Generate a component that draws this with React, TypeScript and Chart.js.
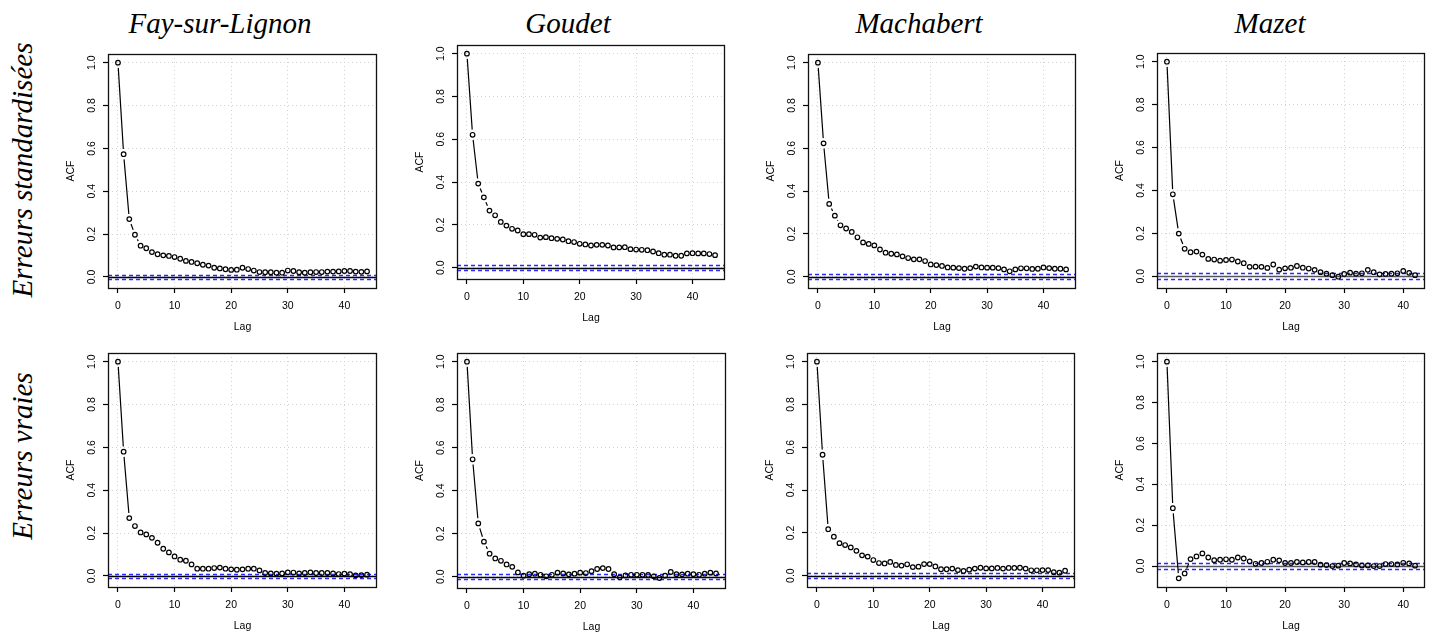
import React, { useEffect, useRef } from "react";
import { Chart, registerables } from "chart.js";

Chart.register(...registerables);

// ---------- data ----------
const SITES = ["Fay-sur-Lignon", "Goudet", "Machabert", "Mazet"];
const ROW_LABELS = ["Erreurs standardisées", "Erreurs vraies"];
const X_TICKS = [0, 10, 20, 30, 40];
const Y_TICKS = [0, 0.2, 0.4, 0.6, 0.8, 1.0];
const X_TITLE = "Lag";
const Y_TITLE = "ACF";

const fayStd = [
  1.0, 0.573, 0.27, 0.197, 0.146, 0.134, 0.116, 0.106, 0.101, 0.098,
  0.093, 0.085, 0.075, 0.07, 0.064, 0.057, 0.053, 0.043, 0.04, 0.036,
  0.033, 0.034, 0.043, 0.037, 0.03, 0.023, 0.022, 0.022, 0.02, 0.02,
  0.03, 0.028, 0.022, 0.02, 0.022, 0.023, 0.023, 0.025, 0.025, 0.026,
  0.028, 0.028, 0.025, 0.024, 0.026,
];
const goudetStd = [
  1.0, 0.621, 0.393, 0.329, 0.267, 0.245, 0.214, 0.197, 0.182, 0.174,
  0.157, 0.157, 0.154, 0.141, 0.143, 0.138, 0.135, 0.132, 0.124, 0.12,
  0.112, 0.109, 0.104, 0.107, 0.107, 0.104, 0.095, 0.095, 0.096, 0.087,
  0.085, 0.084, 0.082, 0.076, 0.068, 0.061, 0.061, 0.056, 0.056, 0.067,
  0.068, 0.067, 0.067, 0.064, 0.059,
];
const machabertStd = [
  1.0, 0.623, 0.34, 0.285, 0.24, 0.225, 0.209, 0.184, 0.16, 0.153,
  0.146, 0.127, 0.112, 0.107, 0.104, 0.095, 0.087, 0.081, 0.081, 0.073,
  0.057, 0.054, 0.05, 0.043, 0.042, 0.04, 0.037, 0.04, 0.047, 0.043,
  0.042, 0.042, 0.04, 0.034, 0.025, 0.034, 0.039, 0.039, 0.036, 0.037,
  0.043, 0.04, 0.037, 0.037, 0.034,
];
const mazetStd = [
  1.0, 0.382, 0.199, 0.128, 0.112, 0.115, 0.101, 0.081, 0.078, 0.073,
  0.076, 0.078, 0.069, 0.061, 0.044, 0.045, 0.044, 0.039, 0.055, 0.031,
  0.037, 0.04, 0.048, 0.04, 0.036, 0.03, 0.019, 0.012, 0.005, -0.002,
  0.011, 0.017, 0.012, 0.014, 0.03, 0.019, 0.009, 0.011, 0.012, 0.014,
  0.025, 0.016, 0.005,
];
const fayTrue = [
  1.0, 0.58, 0.27, 0.233, 0.203, 0.194, 0.178, 0.155, 0.127, 0.11,
  0.091, 0.076, 0.071, 0.054, 0.034, 0.034, 0.034, 0.037, 0.039, 0.034,
  0.031, 0.029, 0.031, 0.034, 0.034, 0.026, 0.014, 0.012, 0.011, 0.012,
  0.017, 0.016, 0.012, 0.014, 0.017, 0.014, 0.014, 0.014, 0.012, 0.009,
  0.011, 0.008, 0.003, 0.004, 0.006,
];
const goudetTrue = [
  1.0, 0.546, 0.248, 0.163, 0.107, 0.085, 0.074, 0.057, 0.046, 0.02,
  0.005, 0.012, 0.014, 0.009, 0.002, 0.009, 0.019, 0.015, 0.011, 0.014,
  0.019, 0.017, 0.026, 0.036, 0.04, 0.036, 0.012, -0.003, 0.006, 0.009,
  0.009, 0.009, 0.008, 0.002, -0.006, 0.005, 0.022, 0.012, 0.011, 0.014,
  0.012, 0.009, 0.014, 0.019, 0.015,
];
const machabertTrue = [
  1.0, 0.565, 0.217, 0.182, 0.152, 0.143, 0.132, 0.116, 0.095, 0.089,
  0.073, 0.059, 0.057, 0.064, 0.05, 0.047, 0.053, 0.04, 0.042, 0.054,
  0.054, 0.043, 0.03, 0.03, 0.033, 0.026, 0.022, 0.028, 0.033, 0.037,
  0.034, 0.034, 0.036, 0.033, 0.036, 0.036, 0.037, 0.033, 0.025, 0.025,
  0.026, 0.026, 0.016, 0.014, 0.023,
];
const mazetTrue = [
  1.0, 0.283, -0.06, -0.036, 0.034, 0.047, 0.062, 0.042, 0.029, 0.031,
  0.033, 0.031, 0.042, 0.037, 0.023, 0.011, 0.015, 0.021, 0.031, 0.028,
  0.015, 0.015, 0.02, 0.018, 0.02, 0.02, 0.007, 0.005, 0.0, 0.002,
  0.015, 0.013, 0.008, 0.003, 0.003, 0.0, 0.0, 0.01, 0.01, 0.008,
  0.016, 0.013, 0.002,
];

// confidence bounds (± value) per panel
const ciStd = [0.011, 0.012, 0.0125, 0.014];
const ciTrue = [0.011, 0.012, 0.0125, 0.016];

const SERIES = [
  [fayStd, goudetStd, machabertStd, mazetStd],
  [fayTrue, goudetTrue, machabertTrue, mazetTrue],
];
const CIS = [ciStd, ciTrue];

// ---------- layout (plot box of every panel, page pixels) ----------
const BOXES = [
  [
    { l: 108, t: 54, w: 269, h: 234 },
    { l: 457, t: 45, w: 268, h: 234 },
    { l: 808, t: 54, w: 268, h: 234 },
    { l: 1157, t: 53, w: 268, h: 235 },
  ],
  [
    { l: 108, t: 353, w: 269, h: 234 },
    { l: 457, t: 353, w: 269, h: 235 },
    { l: 807, t: 353, w: 268, h: 234 },
    { l: 1157, t: 353, w: 268, h: 234 },
  ],
];
const ZERO_COLORS = ["#000", "#000", "#000", "#555"];
const TITLE_X = [220, 568, 919, 1270];
const ROW_Y = [170, 456];

const PAD_L = 60;
const PAD_T = 10;
const PAD_R = 10;
const PAD_B = 50;
const SANS = '"Liberation Sans", Arial, sans-serif';
const SERIF = '"Liberation Serif", "Times New Roman", serif';

const rPlot = {
  id: "rPlot",
  beforeDatasetsDraw(chart: any, _args: any, opts: any) {
    const { ctx, chartArea: a, scales } = chart;
    const y = scales.y;
    const ci = opts.ci as number;
    ctx.save();
    // zero line
    ctx.lineWidth = 1.3;
    ctx.strokeStyle = opts.zeroColor || "#000";
    const y0 = Math.round(y.getPixelForValue(0)) + 0.5;
    ctx.beginPath();
    ctx.moveTo(a.left, y0);
    ctx.lineTo(a.right, y0);
    ctx.stroke();
    // confidence bounds
    ctx.strokeStyle = "#2a2aff";
    ctx.lineWidth = 1.5;
    ctx.setLineDash([4, 3]);
    for (const c of [ci, -ci]) {
      const yy = Math.round(y.getPixelForValue(c)) + 0.5;
      ctx.beginPath();
      ctx.moveTo(a.left, yy);
      ctx.lineTo(a.right, yy);
      ctx.stroke();
    }
    ctx.setLineDash([]);
    // type "b" line with gaps around points
    const pts = chart.getDatasetMeta(0).data;
    const gap = 5.2;
    ctx.strokeStyle = "#000";
    ctx.lineWidth = 1.2;
    ctx.beginPath();
    for (let i = 0; i < pts.length - 1; i++) {
      const p0 = pts[i];
      const p1 = pts[i + 1];
      const dx = p1.x - p0.x;
      const dy = p1.y - p0.y;
      const d = Math.hypot(dx, dy);
      if (d > 2 * gap) {
        const f = gap / d;
        ctx.moveTo(p0.x + dx * f, p0.y + dy * f);
        ctx.lineTo(p1.x - dx * f, p1.y - dy * f);
      }
    }
    ctx.stroke();
    // box
    ctx.strokeStyle = "#111";
    ctx.lineWidth = 1.3;
    ctx.strokeRect(a.left + 0.5, a.top + 0.5, a.right - a.left - 1, a.bottom - a.top);
    // y tick labels (parallel to axis)
    ctx.fillStyle = "#000";
    ctx.font = `10.5px ${SANS}`;
    ctx.textAlign = "center";
    ctx.textBaseline = "middle";
    for (const v of Y_TICKS) {
      const py = y.getPixelForValue(v);
      ctx.save();
      ctx.translate(a.left - 15.5, py);
      ctx.rotate(-Math.PI / 2);
      ctx.fillText(v.toFixed(1), 0, 0);
      ctx.restore();
    }
    // axis titles
    ctx.save();
    ctx.translate(a.left - 36.5, (a.top + a.bottom) / 2);
    ctx.rotate(-Math.PI / 2);
    ctx.fillText(Y_TITLE, 0, 0);
    ctx.restore();
    ctx.fillText(X_TITLE, (a.left + a.right) / 2, a.bottom + 39);
    ctx.restore();
  },
};

type Box = { l: number; t: number; w: number; h: number };

function Panel({ values, ci, box, zeroColor }: { values: number[]; ci: number; box: Box; zeroColor: string }) {
  const ref = useRef<HTMLCanvasElement>(null);
  useEffect(() => {
    const n = values.length - 1;
    const xmin = -0.04 * n;
    const xmax = n * 1.04;
    const lo = Math.min(-ci, ...values);
    const hi = Math.max(ci, ...values);
    const ext = (hi - lo) * 0.04;
    const gridOpts = {
      color: "#d3d3d3",
      lineWidth: 1,
      drawTicks: true,
      tickLength: 5,
      tickColor: "#000",
      tickWidth: 1.2,
      tickBorderDash: [],
    };
    const chart = new Chart(ref.current as HTMLCanvasElement, {
      type: "scatter",
      data: {
        datasets: [
          {
            data: values.map((v, i) => ({ x: i, y: v })),
            pointRadius: 2.3,
            pointBorderWidth: 1.2,
            pointBorderColor: "#000",
            pointBackgroundColor: "rgba(0,0,0,0)",
            showLine: false,
          },
        ],
      },
      options: {
        responsive: false,
        animation: false,
        events: [],
        layout: { padding: { left: 0, top: PAD_T, right: PAD_R, bottom: 0 } },
        plugins: {
          legend: { display: false },
          tooltip: { enabled: false },
          rPlot: { ci, zeroColor },
        } as any,
        scales: {
          x: {
            type: "linear",
            min: xmin,
            max: xmax,
            afterBuildTicks: (s: any) => {
              s.ticks = X_TICKS.map((v) => ({ value: v }));
            },
            afterFit: (s: any) => {
              s.height = PAD_B;
            },
            ticks: {
              font: { size: 10.5, family: SANS },
              color: "#000",
              padding: 7,
              maxRotation: 0,
              autoSkip: false,
              callback: (v: any) => String(v),
            },
            grid: gridOpts,
            border: { display: false, dash: [1, 3] },
          },
          y: {
            type: "linear",
            min: lo - ext,
            max: hi + ext,
            afterBuildTicks: (s: any) => {
              s.ticks = Y_TICKS.map((v) => ({ value: v }));
            },
            afterFit: (s: any) => {
              s.width = PAD_L;
            },
            ticks: { display: false },
            grid: gridOpts,
            border: { display: false, dash: [1, 3] },
          },
        },
      },
      plugins: [rPlot as any],
    } as any);
    return () => chart.destroy();
  }, [values, ci, zeroColor]);
  const W = box.w + PAD_L + PAD_R;
  const H = box.h + PAD_T + PAD_B;
  return (
    <canvas
      ref={ref}
      width={W}
      height={H}
      style={{ position: "absolute", left: box.l - PAD_L, top: box.t - PAD_T, width: W, height: H }}
    />
  );
}

export default function App() {
  return (
    <div
      style={{
        position: "absolute",
        left: 0,
        top: 0,
        width: 1439,
        height: 634,
        background: "#fff",
        overflow: "hidden",
      }}
    >
      {SITES.map((s, i) => (
        <div
          key={s}
          style={{
            position: "absolute",
            left: TITLE_X[i],
            top: 9,
            transform: "translateX(-50%)",
            font: `italic 29px ${SERIF}`,
            lineHeight: "29px",
            whiteSpace: "nowrap",
            color: "#000",
          }}
        >
          {s}
        </div>
      ))}
      {ROW_LABELS.map((r, i) => (
        <div
          key={r}
          style={{
            position: "absolute",
            left: 22,
            top: ROW_Y[i],
            transform: "translate(-50%, -50%) rotate(-90deg)",
            font: `italic 29px ${SERIF}`,
            lineHeight: "29px",
            whiteSpace: "nowrap",
            color: "#000",
          }}
        >
          {r}
        </div>
      ))}
      {SERIES.map((row, ri) =>
        row.map((vals, ci) => (
          <Panel
            key={`${ri}-${ci}`}
            values={vals}
            ci={CIS[ri][ci]}
            box={BOXES[ri][ci]}
            zeroColor={ZERO_COLORS[ci]}
          />
        ))
      )}
    </div>
  );
}
